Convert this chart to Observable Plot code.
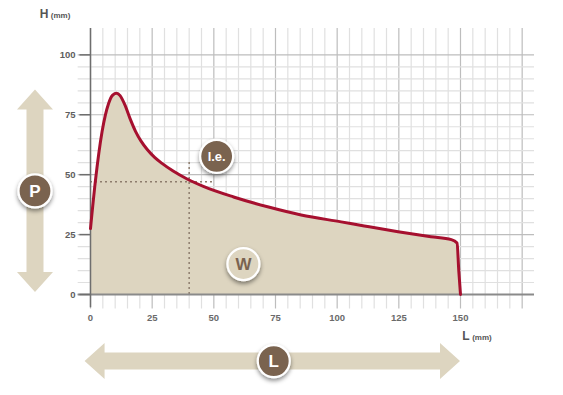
<!DOCTYPE html>
<html>
<head>
<meta charset="utf-8">
<script src="https://cdn.jsdelivr.net/npm/d3@7"></script>
<script src="https://cdn.jsdelivr.net/npm/@observablehq/plot@0.6"></script>
<style>
  html, body { margin: 0; padding: 0; background: #fff; }
  #chart svg { display: block; }
</style>
</head>
<body>
<div id="chart"></div>
<script>
// ---- data ----
const lengthMM = [0, 2, 4.7, 7.3, 9, 10.6, 12, 14, 16, 18.3, 20.5, 23, 26, 29, 33.5, 38.6, 46, 58, 71.8, 85.4, 101.6, 111, 124.7, 138, 146.3, 148.6, 149.3, 150];
const heightMM = [27.5, 47.5, 68, 79.6, 83.2, 84, 83, 79, 73.5, 68, 64, 60.5, 57.2, 54.7, 51.5, 48.5, 45, 40.7, 36.6, 33.2, 30.3, 28.6, 26.2, 24.1, 22.9, 21.5, 10, 0];
const xTickLabels = [0, 25, 50, 75, 100, 125, 150];
const yTickLabels = [0, 25, 50, 75, 100];
const ieL = 40, ieH = 47;          // the "l.e." reference point
const badgeLabels = ["P", "L", "W", "l.e."];

const data = lengthMM.map((l, i) => ({L: l, H: heightMM[i]}));

const beige = "#ddd5c0";
const red = "#a6102f";
const brown = "#7a6350";
const gridMinor = "#e0e0e0";
const gridMajor = "#bdbdbd";

const vGrid = d3.range(0, 176, 5);
const hGrid = d3.range(0, 101, 5);

const chart = Plot.plot({
  width: 563,
  height: 395,
  marginLeft: 90,
  marginRight: 29,
  marginTop: 28,
  marginBottom: 101,
  x: {domain: [0, 180], axis: null},
  y: {domain: [0, 111], axis: null},
  style: {background: "#fff", fontFamily: "'Liberation Sans', Arial, sans-serif"},
  marks: [
    Plot.ruleX(vGrid, {x: d => d, y1: -6, y2: 111, stroke: d => d % 25 === 0 ? gridMajor : gridMinor, strokeWidth: 1.2}),
    Plot.ruleY(hGrid, {y: d => d, x1: -5, x2: 180, stroke: d => d % 25 === 0 ? gridMajor : gridMinor, strokeWidth: 1.2}),
    Plot.areaY(data, {x: "L", y: "H", fill: beige, curve: "monotone-x"}),
    Plot.ruleY([ieH], {x1: 0, x2: 50, stroke: "#8d7d6d", strokeWidth: 1.5, strokeDasharray: "2,3"}),
    Plot.ruleX([ieL], {y1: 0, y2: 56, stroke: "#8d7d6d", strokeWidth: 1.5, strokeDasharray: "2,3"}),
    Plot.ruleY([0], {x1: -5, x2: 180, stroke: "#8a8a8a", strokeWidth: 2}),
    Plot.ruleX([0], {y1: -5.5, y2: 111, stroke: "#6e6e6e", strokeWidth: 1.5}),
    Plot.ruleY(yTickLabels, {y: d => d, x1: -4.3, x2: 0, stroke: "#6e6e6e", strokeWidth: 1.5}),
    Plot.line(data, {x: "L", y: "H", stroke: red, strokeWidth: 3, curve: "monotone-x", strokeLinejoin: "round"}),
    Plot.text(yTickLabels, {x: 0, y: d => d, text: d => String(d), dx: -15, textAnchor: "end", fill: "#5e5e5e", fontSize: 9.5, fontWeight: "bold"}),
    Plot.text(xTickLabels, {x: d => d, y: 0, text: d => String(d), dy: 23, fill: "#6a6a6a", fontSize: 9.5, fontWeight: "bold"})
  ]
});

document.getElementById("chart").appendChild(chart);

// ---- decorations placed through the plot's scales ----
const sx = chart.scale("x"), sy = chart.scale("y");
const X = v => sx.apply(v), Y = v => sy.apply(v);
const svg = d3.select(chart);

const defs = svg.append("defs");
const f = defs.append("filter").attr("id", "shadow").attr("x", "-50%").attr("y", "-50%").attr("width", "200%").attr("height", "200%");
f.append("feDropShadow").attr("dx", 0).attr("dy", 2.5).attr("stdDeviation", 2.2).attr("flood-color", "#000").attr("flood-opacity", 0.45);

const maxH = d3.max(heightMM), maxL = d3.max(lengthMM);

// vertical P arrow (spans 0 .. peak height)
const pX = X(-22.3), pTop = Y(maxH + 1.3), pBot = Y(0.8);
const head = 20, hw = 18, sw = 8.5;
svg.append("path")
  .attr("d", `M${pX},${pTop} L${pX + hw},${pTop + head} L${pX + sw},${pTop + head} L${pX + sw},${pBot - head} L${pX + hw},${pBot - head} L${pX},${pBot} L${pX - hw},${pBot - head} L${pX - sw},${pBot - head} L${pX - sw},${pTop + head} L${pX - hw},${pTop + head} Z`)
  .attr("fill", beige);

// horizontal L arrow (spans 0 .. total length)
const lY = Y(-28), lLeft = X(-2.2), lRight = X(maxL);
svg.append("path")
  .attr("d", `M${lLeft},${lY} L${lLeft + head},${lY - hw} L${lLeft + head},${lY - sw} L${lRight - head},${lY - sw} L${lRight - head},${lY - hw} L${lRight},${lY} L${lRight - head},${lY + hw} L${lRight - head},${lY + sw} L${lLeft + head},${lY + sw} L${lLeft + head},${lY + hw} Z`)
  .attr("fill", beige);

function badge(cx, cy, r, label, fill, color, size) {
  const g = svg.append("g");
  g.append("circle").attr("cx", cx).attr("cy", cy).attr("r", r)
    .attr("fill", fill).attr("stroke", "#fff").attr("stroke-width", 2.2)
    .attr("filter", "url(#shadow)");
  g.append("text").attr("x", cx).attr("y", cy).attr("dy", "0.36em")
    .attr("text-anchor", "middle").attr("fill", color)
    .attr("font-family", "'Liberation Sans', Arial, sans-serif")
    .attr("font-weight", "bold").attr("font-size", size).text(label);
}
badge(pX, Y(maxH / 2 + 1), 16.5, badgeLabels[0], brown, "#fff", 17);
badge(X(maxL / 2 - 0.5), lY, 16, badgeLabels[1], brown, "#fff", 17);
badge(X(62.2), Y(12.5), 16, badgeLabels[2], beige, brown, 17);
badge(X(ieL) + 28, Y(ieH) - 25, 16.5, badgeLabels[3], brown, "#fff", 13);

// axis titles
function axisTitle(x, y, big, small) {
  const t = svg.append("text").attr("x", x).attr("y", y)
    .attr("font-family", "'Liberation Sans', Arial, sans-serif")
    .attr("font-weight", "bold").attr("fill", "#555");
  t.append("tspan").attr("font-size", 12).text(big);
  t.append("tspan").attr("font-size", 8).attr("dx", 2.5).text(small);
}
axisTitle(X(0) - 35, Y(111) - 10, "H", "(mm)");
axisTitle(X(0) + 387, Y(0) + 46, "L", "(mm)");
</script>
</body>
</html>
